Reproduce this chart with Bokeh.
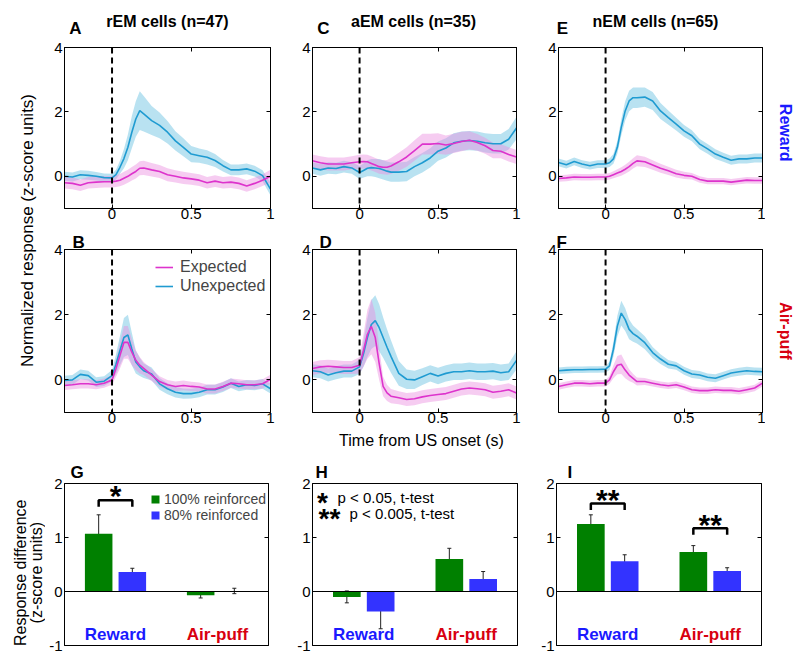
import math
from bokeh.plotting import figure
from bokeh.models import (ColumnDataSource, Label, Span, LinearAxis, FixedTicker,
                          Range1d, Legend, LegendItem, Whisker, TeeHead)
from bokeh.layouts import row, column
from bokeh.embed import file_html
from bokeh.resources import INLINE

FONT = "Liberation Sans"

# ---------------- data ----------------
T = [-0.3, -0.25, -0.2, -0.15, -0.1, -0.05, 0.0, 0.025, 0.05, 0.075, 0.1, 0.125, 0.15, 0.175,
     0.2, 0.25, 0.3, 0.35, 0.4, 0.45, 0.5, 0.55, 0.6, 0.65, 0.7, 0.75, 0.8, 0.85, 0.9, 0.95, 1.0]

# A: rEM reward
rem_rew_unexp = [0.0, -0.02, 0.05, 0.03, 0.0, -0.04, -0.05, 0.05, 0.28, 0.55, 0.9, 1.37, 1.78, 2.04,
                 1.94, 1.73, 1.58, 1.37, 1.1, 0.9, 0.69, 0.64, 0.59, 0.49, 0.33, 0.2, 0.2, 0.23, 0.16, 0.02, -0.4]
rem_rew_unexp_sem = [0.14, 0.14, 0.14, 0.14, 0.13, 0.13, 0.13, 0.15, 0.2, 0.3, 0.4, 0.5, 0.55, 0.6,
                     0.55, 0.45, 0.4, 0.35, 0.3, 0.28, 0.25, 0.22, 0.22, 0.2, 0.18, 0.17, 0.17, 0.17, 0.17, 0.17, 0.2]
rem_rew_exp = [-0.2, -0.22, -0.28, -0.2, -0.18, -0.17, -0.17, -0.15, -0.12, -0.06, 0.0, 0.08, 0.15, 0.25,
               0.26, 0.2, 0.15, 0.05, 0.0, -0.05, -0.08, -0.12, -0.2, -0.15, -0.2, -0.18, -0.22, -0.3, -0.22, -0.12, 0.0]
rem_rew_exp_sem = [0.18, 0.18, 0.18, 0.18, 0.18, 0.18, 0.18, 0.18, 0.19, 0.2, 0.2, 0.21, 0.22, 0.22,
                   0.22, 0.21, 0.2, 0.2, 0.19, 0.19, 0.18, 0.18, 0.18, 0.18, 0.18, 0.18, 0.18, 0.18, 0.18, 0.18, 0.2]
# B: rEM air-puff
rem_air_unexp = [-0.02, 0.0, 0.17, 0.13, -0.07, -0.04, 0.13, 0.48, 0.9, 1.3, 1.38, 0.95, 0.55, 0.4,
                 0.28, 0.18, -0.12, -0.27, -0.38, -0.42, -0.42, -0.38, -0.3, -0.3, -0.22, -0.1, -0.2, -0.15, -0.17, -0.12, -0.27]
rem_air_unexp_sem = [0.15, 0.15, 0.15, 0.15, 0.15, 0.15, 0.17, 0.3, 0.45, 0.6, 0.62, 0.5, 0.35, 0.28,
                     0.22, 0.2, 0.18, 0.17, 0.16, 0.16, 0.15, 0.15, 0.15, 0.15, 0.15, 0.15, 0.15, 0.15, 0.15, 0.15, 0.15]
rem_air_exp = [-0.17, -0.15, -0.12, -0.12, -0.15, -0.1, 0.0, 0.35, 0.75, 1.15, 1.15, 0.85, 0.6, 0.45,
               0.35, 0.15, -0.05, -0.15, -0.2, -0.17, -0.2, -0.22, -0.28, -0.28, -0.2, -0.1, -0.12, -0.15, -0.15, -0.12, 0.02]
rem_air_exp_sem = [0.14, 0.14, 0.14, 0.14, 0.14, 0.14, 0.15, 0.25, 0.4, 0.5, 0.5, 0.4, 0.3, 0.25,
                   0.2, 0.18, 0.16, 0.15, 0.15, 0.15, 0.14, 0.14, 0.14, 0.14, 0.14, 0.14, 0.14, 0.14, 0.14, 0.14, 0.14]
# C: aEM reward
aem_rew_unexp = [0.26, 0.2, 0.26, 0.24, 0.3, 0.26, 0.12, 0.18, 0.25, 0.27, 0.26, 0.24, 0.2, 0.16,
                 0.13, 0.13, 0.15, 0.3, 0.42, 0.57, 0.78, 0.88, 1.04, 1.09, 1.11, 1.09, 1.04, 1.01, 1.01, 1.15, 1.5]
aem_rew_unexp_sem = [0.18, 0.18, 0.18, 0.18, 0.18, 0.18, 0.2, 0.22, 0.25, 0.27, 0.28, 0.3, 0.3, 0.3,
                     0.3, 0.3, 0.3, 0.3, 0.3, 0.3, 0.3, 0.3, 0.3, 0.3, 0.3, 0.3, 0.3, 0.3, 0.3, 0.32, 0.35]
aem_rew_exp = [0.48, 0.42, 0.38, 0.38, 0.38, 0.42, 0.45, 0.46, 0.45, 0.4, 0.35, 0.3, 0.28, 0.28,
               0.32, 0.45, 0.6, 0.8, 1.0, 1.0, 1.02, 0.97, 1.02, 1.08, 1.12, 1.05, 0.95, 0.8, 0.78, 0.68, 0.6]
aem_rew_exp_sem = [0.2, 0.2, 0.2, 0.2, 0.2, 0.2, 0.22, 0.22, 0.22, 0.22, 0.22, 0.22, 0.22, 0.23,
                   0.25, 0.28, 0.3, 0.32, 0.32, 0.32, 0.32, 0.3, 0.3, 0.3, 0.28, 0.26, 0.25, 0.24, 0.22, 0.22, 0.22]
# D: aEM air-puff
aem_air_unexp = [0.28, 0.25, 0.15, 0.22, 0.27, 0.27, 0.4, 0.8, 1.3, 1.7, 1.82, 1.6, 1.3, 1.0,
                 0.72, 0.2, 0.02, 0.0, 0.1, 0.2, 0.12, 0.2, 0.25, 0.25, 0.28, 0.25, 0.25, 0.27, 0.22, 0.25, 0.6]
aem_air_unexp_sem = [0.2, 0.2, 0.2, 0.2, 0.2, 0.2, 0.22, 0.4, 0.6, 0.75, 0.78, 0.72, 0.62, 0.55,
                     0.5, 0.38, 0.3, 0.28, 0.26, 0.25, 0.25, 0.25, 0.25, 0.25, 0.25, 0.25, 0.25, 0.25, 0.25, 0.25, 0.28]
aem_air_exp = [0.35, 0.4, 0.42, 0.4, 0.38, 0.38, 0.45, 0.9, 1.4, 1.64, 1.3, 0.5, -0.2, -0.4,
               -0.5, -0.55, -0.6, -0.58, -0.52, -0.48, -0.45, -0.42, -0.35, -0.28, -0.25, -0.27, -0.3, -0.38, -0.35, -0.3, -0.4]
aem_air_exp_sem = [0.2, 0.2, 0.2, 0.2, 0.2, 0.2, 0.25, 0.5, 0.75, 0.85, 0.75, 0.5, 0.3, 0.25,
                   0.22, 0.2, 0.2, 0.2, 0.2, 0.2, 0.2, 0.2, 0.2, 0.2, 0.2, 0.2, 0.2, 0.2, 0.2, 0.2, 0.2]
# E: nEM reward
nem_rew_unexp = [0.43, 0.36, 0.46, 0.38, 0.33, 0.38, 0.38, 0.42, 0.54, 0.9, 1.52, 2.03, 2.34, 2.44,
                 2.44, 2.46, 2.34, 2.03, 1.82, 1.62, 1.41, 1.26, 1.0, 0.85, 0.69, 0.59, 0.5, 0.54, 0.54, 0.57, 0.57]
nem_rew_unexp_sem = [0.12, 0.12, 0.12, 0.12, 0.12, 0.12, 0.12, 0.13, 0.15, 0.2, 0.25, 0.3, 0.32, 0.32,
                     0.32, 0.3, 0.28, 0.25, 0.22, 0.2, 0.18, 0.17, 0.16, 0.15, 0.15, 0.14, 0.14, 0.14, 0.14, 0.14, 0.14]
nem_rew_exp = [-0.07, -0.05, -0.02, -0.03, -0.03, -0.02, -0.02, 0.0, 0.05, 0.1, 0.15, 0.22, 0.3, 0.4,
               0.48, 0.45, 0.35, 0.25, 0.17, 0.08, 0.03, 0.0, -0.1, -0.15, -0.15, -0.15, -0.18, -0.15, -0.12, -0.13, -0.13]
nem_rew_exp_sem = [0.1, 0.1, 0.1, 0.1, 0.1, 0.1, 0.1, 0.1, 0.11, 0.12, 0.13, 0.14, 0.15, 0.16,
                   0.17, 0.16, 0.15, 0.14, 0.13, 0.12, 0.11, 0.1, 0.1, 0.1, 0.1, 0.1, 0.1, 0.1, 0.1, 0.1, 0.1]
# F: nEM air-puff
nem_air_unexp = [0.28, 0.3, 0.31, 0.31, 0.32, 0.32, 0.33, 0.43, 0.94, 1.65, 2.05, 1.85, 1.55, 1.42,
                 1.34, 1.14, 0.84, 0.64, 0.48, 0.43, 0.28, 0.18, 0.15, 0.08, 0.05, 0.13, 0.21, 0.25, 0.28, 0.26, 0.25]
nem_air_unexp_sem = [0.1, 0.1, 0.1, 0.1, 0.1, 0.1, 0.1, 0.13, 0.22, 0.32, 0.38, 0.35, 0.3, 0.25,
                     0.22, 0.2, 0.17, 0.15, 0.13, 0.12, 0.12, 0.12, 0.12, 0.12, 0.12, 0.12, 0.12, 0.12, 0.12, 0.12, 0.12]
nem_air_exp = [-0.2, -0.15, -0.1, -0.1, -0.12, -0.1, -0.1, 0.0, 0.25, 0.45, 0.48, 0.3, 0.15, 0.05,
               -0.05, -0.05, -0.1, -0.15, -0.18, -0.15, -0.22, -0.3, -0.33, -0.33, -0.3, -0.32, -0.32, -0.35, -0.3, -0.25, -0.1]
nem_air_exp_sem = [0.1, 0.1, 0.1, 0.1, 0.1, 0.1, 0.1, 0.12, 0.2, 0.28, 0.3, 0.25, 0.18, 0.14,
                   0.12, 0.11, 0.1, 0.1, 0.1, 0.1, 0.1, 0.1, 0.1, 0.1, 0.1, 0.1, 0.1, 0.1, 0.1, 0.1, 0.1]

# bar data: [Reward, Air-puff]
groups = ["Reward", "Air-puff"]
group_pos = [1, 2]
rem_100 = [1.07, -0.07]
rem_100_err = [0.35, 0.05]
rem_80 = [0.36, 0.01]
rem_80_err = [0.07, 0.05]
aem_100 = [-0.10, 0.60]
aem_100_err = [0.11, 0.20]
aem_80 = [-0.37, 0.23]
aem_80_err = [0.32, 0.14]
nem_100 = [1.25, 0.73]
nem_100_err = [0.17, 0.12]
nem_80 = [0.56, 0.38]
nem_80_err = [0.12, 0.06]

sig_panel = ["G", "I", "I"]
sig_group = [0, 0, 1]
sig_level = [1.69, 1.63, 1.17]
sig_marks = ["*", "**", "**"]

TIME_TICKS = [0, 0.5, 1]
RESP_TICKS = [0, 2, 4]
DIFF_TICKS = [-1, 0, 1, 2]
cell_titles = ["rEM cells (n=47)", "aEM cells (n=35)", "nEM cells (n=65)"]
row_labels = ["Reward", "Air-puff"]
line_legend = ["Expected", "Unexpected"]
bar_legend = ["100% reinforced", "80% reinforced"]
note_marks = ["*", "**"]
note_texts = ["p < 0.05, t-test", "p < 0.005, t-test"]

# ---------------- styling ----------------
EXP_LINE, EXP_BAND = "#dd33cc", "#ea8fe0"
UNEXP_LINE, UNEXP_BAND = "#1f9bd1", "#7fcbe6"
GREEN, BLUE = "#008000", "#3333ff"
REW_COLOR, AIR_COLOR = "#1a1aff", "#d80010"

# (left, top, width, height, border_l, border_r, border_t, border_b) in page px
GEOM = {
    "A": (44, 38, 247, 187, 20, 21, 9, 17),
    "C": (291, 38, 246, 187, 21, 21, 9, 17),
    "E": (537, 38, 228, 187, 21, 3, 9, 17),
    "B": (44, 225, 247, 204, 20, 21, 24, 17),
    "D": (291, 225, 246, 204, 21, 21, 24, 17),
    "F": (537, 225, 228, 204, 21, 3, 24, 17),
    "G": (45, 452, 245, 207, 19, 22, 31, 14),
    "H": (290, 452, 246, 207, 22, 19, 31, 14),
    "I": (536, 452, 264, 207, 20, 39, 31, 14),
}
# letters drawn in the top strip (centre positions)
LETTER_POS = {"A": (75, 28), "C": (323, 28), "E": (562, 28)}
# letters drawn as plot titles: offset from frame left (px), standoff, vertical alignment
LETTER_TITLE = {"B": (8, -8, "top"), "D": (7, -8, "top"), "F": (-2, -8, "top"),
                "G": (6, 3, "bottom"), "H": (3, 3, "bottom"), "I": (11, 3, "bottom")}


def frame(key):
    l, t, w, h, bl, br, bt, bb = GEOM[key]
    return (l + bl, l + w - br, t + bt, t + h - bb)


def to_data(key, rng, X, Y):
    fx0, fx1, fy0, fy1 = frame(key)
    x0, x1, y0, y1 = rng
    return (x0 + (X - fx0) / (fx1 - fx0) * (x1 - x0),
            y0 + (fy1 - Y) / (fy1 - fy0) * (y1 - y0))


def lab(x, y, text, size, bold=False, color="black", align="center", angle=0.0):
    return Label(x=x, y=y, text=text, text_font=FONT, text_font_size=f"{size}px",
                 text_font_style="bold" if bold else "normal", text_color=color,
                 text_align=align, text_baseline="middle", angle=angle)


def strip(x0, y0, w, h):
    """A text-only figure whose data coordinates equal page pixels."""
    p = figure(width=w, height=h, x_range=Range1d(x0, x0 + w), y_range=Range1d(y0 + h, y0),
               output_backend="svg", toolbar_location=None, tools="",
               x_axis_location=None, y_axis_location=None,
               min_border_left=0, min_border_right=0, min_border_top=0, min_border_bottom=0)
    p.grid.visible = False
    p.outline_line_color = None
    p.background_fill_color = "white"
    p.border_fill_color = "white"
    return p


def style_axis(ax, ticks, overrides, labels=True, standoff=2):
    ax.ticker = FixedTicker(ticks=ticks)
    ax.major_tick_in = 4
    ax.major_tick_out = 0
    ax.minor_tick_in = 0
    ax.minor_tick_out = 0
    ax.axis_line_color = "black"
    ax.major_tick_line_color = "black"
    if labels:
        ax.major_label_overrides = overrides
        ax.major_label_text_font = FONT
        ax.major_label_text_font_size = "15px"
        ax.major_label_text_color = "black"
        ax.major_label_standoff = standoff
    else:
        ax.major_label_text_font_size = "1px"
        ax.major_label_text_color = None
        ax.major_label_standoff = 0


def make_fig(key, rng, xaxis=True):
    l, t, w, h, bl, br, bt, bb = GEOM[key]
    p = figure(width=w, height=h, x_range=Range1d(rng[0], rng[1]), y_range=Range1d(rng[2], rng[3]),
               output_backend="svg", toolbar_location=None, tools="",
               x_axis_location="below" if xaxis else None,
               min_border_left=bl, min_border_right=br, min_border_top=bt, min_border_bottom=bb)
    p.grid.visible = False
    p.outline_line_color = "black"
    p.outline_line_width = 1
    p.background_fill_color = "white"
    p.border_fill_color = "white"
    if key in LETTER_TITLE:
        off, sto, va = LETTER_TITLE[key]
        p.title.text = key
        p.title.align = "left"
        p.title.offset = off
        p.title.standoff = sto
        p.title.vertical_align = va
        p.title.text_font = FONT
        p.title.text_font_size = "17px"
        p.title.text_font_style = "bold"
        p.title.text_color = "black"
    return p


def fmt(v):
    return "%g" % v


LINE_RNG = (-0.3, 1.0, -1.0, 4.0)
BAR_RNG = (0.5, 2.5, -1.0, 2.0)

line_panels = {
    "A": (rem_rew_exp, rem_rew_exp_sem, rem_rew_unexp, rem_rew_unexp_sem),
    "B": (rem_air_exp, rem_air_exp_sem, rem_air_unexp, rem_air_unexp_sem),
    "C": (aem_rew_exp, aem_rew_exp_sem, aem_rew_unexp, aem_rew_unexp_sem),
    "D": (aem_air_exp, aem_air_exp_sem, aem_air_unexp, aem_air_unexp_sem),
    "E": (nem_rew_exp, nem_rew_exp_sem, nem_rew_unexp, nem_rew_unexp_sem),
    "F": (nem_air_exp, nem_air_exp_sem, nem_air_unexp, nem_air_unexp_sem),
}

figs = {}
line_renderers = {}
for key, (em, es, um, us) in line_panels.items():
    p = make_fig(key, LINE_RNG)
    style_axis(p.xaxis[0], TIME_TICKS, {t: fmt(t) for t in TIME_TICKS}, standoff=0)
    style_axis(p.yaxis[0], RESP_TICKS, {t: fmt(t) for t in RESP_TICKS})
    top_ax = LinearAxis()
    style_axis(top_ax, TIME_TICKS, {}, labels=False)
    p.add_layout(top_ax, "above")
    right_ax = LinearAxis()
    style_axis(right_ax, RESP_TICKS, {}, labels=False)
    p.add_layout(right_ax, "right")

    src = ColumnDataSource(data=dict(
        t=T, em=em, um=um,
        elo=[m - s for m, s in zip(em, es)], ehi=[m + s for m, s in zip(em, es)],
        ulo=[m - s for m, s in zip(um, us)], uhi=[m + s for m, s in zip(um, us)]))
    p.varea(x="t", y1="ulo", y2="uhi", source=src, fill_color=UNEXP_BAND, fill_alpha=0.55)
    p.varea(x="t", y1="elo", y2="ehi", source=src, fill_color=EXP_BAND, fill_alpha=0.45)
    ru = p.line(x="t", y="um", source=src, line_color=UNEXP_LINE, line_width=1.6)
    re = p.line(x="t", y="em", source=src, line_color=EXP_LINE, line_width=1.6)
    line_renderers[key] = (re, ru)
    p.add_layout(Span(location=0, dimension="height", line_color="black",
                      line_dash="6 4", line_width=2))
    figs[key] = p

# legend in B
fx0, fx1, fy0, fy1 = frame("B")
re, ru = line_renderers["B"]
leg = Legend(items=[LegendItem(label=line_legend[0], renderers=[re]),
                    LegendItem(label=line_legend[1], renderers=[ru])],
             location=(155 - fx0, fy1 - 295), glyph_width=18, glyph_height=12,
             label_standoff=7, padding=2, spacing=1, label_height=18, margin=0,
             label_text_font=FONT, label_text_font_size="16px",
             border_line_color=None, background_fill_alpha=0)
figs["B"].add_layout(leg)

# ---------------- bar panels ----------------
bar_panels = {
    "G": (rem_100, rem_100_err, rem_80, rem_80_err),
    "H": (aem_100, aem_100_err, aem_80, aem_80_err),
    "I": (nem_100, nem_100_err, nem_80, nem_80_err),
}
OFF, BW = 0.165, 0.27
for key, (v100, e100, v80, e80) in bar_panels.items():
    p = make_fig(key, BAR_RNG, xaxis=False)
    style_axis(p.yaxis[0], DIFF_TICKS, {t: fmt(t) for t in DIFF_TICKS})
    right_ax = LinearAxis()
    style_axis(right_ax, DIFF_TICKS, {}, labels=False)
    p.add_layout(right_ax, "right")
    rens = []
    for vals, errs, sign, col in [(v100, e100, -1, GREEN), (v80, e80, 1, BLUE)]:
        xs = [g + sign * OFF for g in group_pos]
        src = ColumnDataSource(data=dict(x=xs, top=vals,
                                         lo=[v - e for v, e in zip(vals, errs)],
                                         hi=[v + e for v, e in zip(vals, errs)]))
        r = p.vbar(x="x", top="top", bottom=0, width=BW, source=src, fill_color=col, line_color=None)
        rens.append(r)
        p.add_layout(Whisker(base="x", lower="lo", upper="hi", source=src, line_color="#222222",
                             line_width=1,
                             upper_head=TeeHead(size=4, line_color="#222222", line_width=1),
                             lower_head=TeeHead(size=4, line_color="#222222", line_width=1)))
    p.add_layout(Span(location=0, dimension="width", line_color="black", line_width=1))
    _, yy = to_data(key, BAR_RNG, 0, 634)
    for g, name, col in zip(group_pos, groups, [REW_COLOR, AIR_COLOR]):
        p.add_layout(lab(g, yy, name, 17, bold=True, color=col))
    # significance brackets
    xs_list, ys_list = [], []
    for sp, sg, lvl, mk in zip(sig_panel, sig_group, sig_level, sig_marks):
        if sp != key:
            continue
        g = group_pos[sg]
        xs_list.append([g - OFF, g - OFF, g + OFF, g + OFF])
        ys_list.append([lvl - 0.12, lvl, lvl, lvl - 0.12])
        p.add_layout(lab(g, lvl + 0.08, mk, 30, bold=True))
    if xs_list:
        p.multi_line(xs=xs_list, ys=ys_list, line_color="black", line_width=2.5)
    figs[key] = p
    if key == "G":
        gx0, gx1, gy0, gy1 = frame("G")
        lg = Legend(items=[LegendItem(label=bar_legend[0], renderers=[rens[0]]),
                           LegendItem(label=bar_legend[1], renderers=[rens[1]])],
                    location=(150 - gx0, gy1 - 523), glyph_width=10, glyph_height=10,
                    label_standoff=4, padding=2, spacing=0, label_height=16, margin=0,
                    label_text_font=FONT, label_text_font_size="14px",
                    border_line_color=None, background_fill_alpha=0)
        p.add_layout(lg)

# notes in H
ph = figs["H"]
for (sx, tx, cy), mk, txt in zip([(322, 337, 497), (329, 349, 513)], note_marks, note_texts):
    x, y = to_data("H", BAR_RNG, sx, cy + 5)
    ph.add_layout(lab(x, y, mk, 28, bold=True))
    x, y = to_data("H", BAR_RNG, tx, cy)
    ph.add_layout(lab(x, y, txt, 15, align="left"))

# ---------------- text strips ----------------
s_top = strip(0, 0, 800, 38)
for title, cx in zip(cell_titles, [167, 413, 655]):
    s_top.add_layout(lab(cx, 21, title, 16, bold=True))
for key, (X, Y) in LETTER_POS.items():
    s_top.add_layout(lab(X, Y, key, 17, bold=True))

s_x = strip(44, 429, 756, 23)
s_x.add_layout(lab(421, 440, "Time from US onset (s)", 16))

s_rA = strip(765, 38, 35, 187)
s_rA.add_layout(lab(785, 137, row_labels[0], 16, bold=True, color=REW_COLOR, angle=-math.pi / 2))
s_rB = strip(765, 225, 35, 204)
s_rB.add_layout(lab(785, 327, row_labels[1], 16, bold=True, color=AIR_COLOR, angle=-math.pi / 2))

s_yl = strip(0, 38, 44, 414)
s_yl.add_layout(lab(27, 230, "Normalized response (z-score units)", 17, angle=math.pi / 2))

s_byl = strip(0, 452, 45, 207)
s_byl.add_layout(lab(20, 566, "Response difference", 16, angle=math.pi / 2))
s_byl.add_layout(lab(36, 566, "(z-score units)", 16, angle=math.pi / 2))

layout = column(
    s_top,
    row(s_yl, column(row(figs["A"], figs["C"], figs["E"], s_rA),
                     row(figs["B"], figs["D"], figs["F"], s_rB),
                     s_x)),
    row(s_byl, figs["G"], figs["H"], figs["I"]),
)

open("out.html", "w").write(file_html(layout, INLINE))
